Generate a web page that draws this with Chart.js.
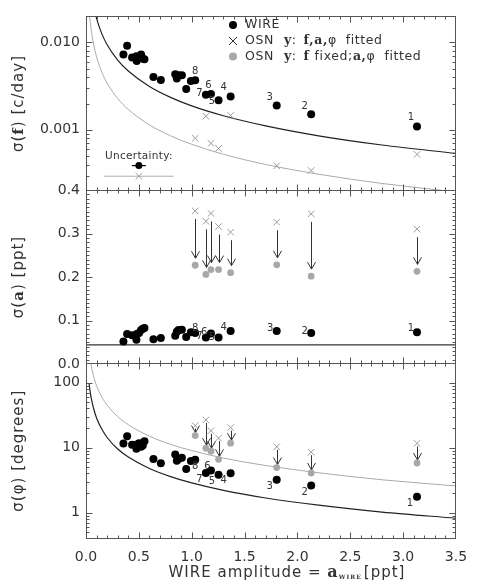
<!DOCTYPE html>
<html><head><meta charset="utf-8">
<script src="https://cdn.jsdelivr.net/npm/chart.js@4.4.1/dist/chart.umd.min.js"></script>
<style>
html,body{margin:0;padding:0;background:#fff;}
#wrap{position:relative;width:480px;height:586px;overflow:hidden;background:#fff;}
canvas{position:absolute;left:0;}
</style></head><body>
<div id="wrap">
<canvas id="c1" width="480" height="200" style="top:0px"></canvas>
<canvas id="c2" width="480" height="190" style="top:182px"></canvas>
<canvas id="c3" width="480" height="231" style="top:355px"></canvas>
</div>
<script>
// ---------------- DATA ----------------
const wireAmp    = [0.354,0.389,0.436,0.477,0.480,0.502,0.521,0.537,0.553,0.638,0.708,0.844,0.859,0.875,0.907,0.948,0.992,1.033,1.134,1.182,1.254,1.368,1.804,2.130,3.131];
const wireSigF   = [0.00725,0.00912,0.00670,0.00693,0.00613,0.00682,0.00725,0.00652,0.00641,0.00402,0.00371,0.00431,0.00385,0.00420,0.00420,0.00292,0.00361,0.00368,0.00252,0.00256,0.00218,0.00241,0.00190,0.00151,0.00109];
const wireSigA   = [0.052,0.069,0.066,0.056,0.069,0.071,0.078,0.081,0.083,0.057,0.060,0.065,0.074,0.078,0.079,0.062,0.073,0.071,0.061,0.070,0.061,0.076,0.076,0.071,0.073];
const wireSigPhi = [11.6,14.9,11.1,9.6,11.2,11.7,10.3,10.8,12.5,6.7,5.75,7.8,6.3,6.7,7.0,4.7,6.2,6.5,4.07,4.43,3.84,4.02,3.21,2.62,1.75];

const starIds      = ['8','7','6','5','4','3','2','1'];
const osnAmp       = [1.033,1.134,1.182,1.254,1.368,1.804,2.130,3.131];
const osnSigF      = [0.00080,0.00143,0.00070,0.000613,0.00146,0.000388,0.000343,0.000524];
const osnSigAFit   = [0.352,0.328,0.346,0.316,0.303,0.326,0.345,0.310];
const osnSigAFix   = [0.227,0.206,0.217,0.217,0.210,0.228,0.202,0.213];
const osnSigPhiFit = [21.8,26.7,18.2,14.0,20.3,10.3,8.5,11.6];
const osnSigPhiFix = [15.3,9.8,8.8,6.6,11.7,4.93,4.07,5.8];

const curveAmp   = [0.03,0.04,0.05,0.07,0.1,0.15,0.2,0.3,0.4,0.6,0.8,1.0,1.3,1.7,2.2,2.8,3.5];
const limFWire   = [0.0627,0.047,0.0376,0.0269,0.0188,0.0125,0.0094,0.00627,0.0047,0.00313,0.00235,0.00188,0.00145,0.00111,0.000855,0.000671,0.000537];
const limFOsn    = [0.0228,0.0171,0.0137,0.0098,0.00684,0.00456,0.00342,0.00228,0.00171,0.00114,0.000855,0.000684,0.000526,0.000402,0.000311,0.000244,0.000195];
const limPhiWire = [95,71.5,57,41,28.6,19.1,14.3,9.5,7.15,4.77,3.58,2.86,2.2,1.68,1.3,1.02,0.82];
const limPhiOsn  = [299,224,180,128,90,60,45,30,22.5,15,11.2,9.0,6.9,5.3,4.1,3.2,2.57];
const limAWire   = 0.044;

const uncAmp = [0.5];
const uncWireF = [0.00039];
const uncOsnF  = [0.000295];
const uncWireErr = 0.066;
const uncOsnErr  = 0.33;

const xRange = [0, 3.5];
const xMajorTicks = [0,0.5,1.0,1.5,2.0,2.5,3.0,3.5];
const xTickLabels = ['0.0','0.5','1.0','1.5','2.0','2.5','3.0','3.5'];
const fRange = [0.0002, 0.02];
const fMajorTicks = [0.001, 0.01];
const fTickLabels = ['0.001','0.010'];
const aRange = [0, 0.4];
const aMajorTicks = [0,0.1,0.2,0.3,0.4];
const aTickLabels = ['0.0','0.1','0.2','0.3','0.4'];
const phiRange = [0.4, 200];
const phiMajorTicks = [1,10,100];
const phiTickLabels = ['1','10','100'];

// ---------------- STYLE ----------------
const SANS = '"DejaVu Sans", "Liberation Sans", sans-serif';
const SERIF = '"DejaVu Serif", "Liberation Serif", serif';
const TXT = '#333';
const FRAME = '#555';
const GRAY_X = '#9a9a9a';
const GRAY_DOT = '#a8a8a8';

function logMinor(lo, hi){
  const out=[]; let e=Math.floor(Math.log10(lo));
  for(; Math.pow(10,e) <= hi*1.0001; e++){ for(let m=1;m<10;m++){ const v=m*Math.pow(10,e); if(v>=lo*0.9999 && v<=hi*1.0001) out.push({v, major:m===1}); } }
  return out;
}
function linTicks(lo,hi,step,majorStep){ const out=[]; const n=Math.round((hi-lo)/step); for(let i=0;i<=n;i++){ const v=lo+i*step; out.push({v, major: Math.abs(v/majorStep-Math.round(v/majorStep))<1e-6}); } return out; }
const xTickMarks = linTicks(0,3.5,0.1,0.5);

function pts(xs, ys){ return xs.map((x,i)=>({x, y: ys[i]})); }

function drawSegs(ctx, segs, x, y){ for(const s of segs){ ctx.font=s.f; ctx.fillText(s.t, x, y+(s.dy||0)); x += ctx.measureText(s.t).width + (s.gap||0);} }
function segsWidth(ctx, segs){ let w=0; for(const s of segs){ ctx.font=s.f; w+=ctx.measureText(s.t).width+(s.gap||0);} return w; }
function spacing(ctx, v){ if('letterSpacing' in ctx) ctx.letterSpacing = v; }

function drawArrow(ctx, x, y0, y1){
  ctx.beginPath(); ctx.moveTo(x,y0); ctx.lineTo(x,y1);
  ctx.moveTo(x-4,y1-7); ctx.lineTo(x,y1); ctx.lineTo(x+4,y1-7); ctx.stroke();
}

const SZ=15;
const decoCfg = {
  c1: {
    yMarks: logMinor(fRange[0],fRange[1]),
    labels:{vals:wireSigF, off:[[0,-8.5],[-6.4,-1.6],[-2.4,-8.7],[-6.6,1],[-7,-8.7],[-7,-8.3],[-6.4,-7.7],[-6,-9]]},
    uncert:true, legend:true,
    ytitle:[{t:'σ(',f:SZ+'px '+SANS},{t:'f',f:'bold '+SZ+'px '+SERIF},{t:') [c/day]',f:SZ+'px '+SANS}]
  },
  c2: {
    yMarks: linTicks(0,0.4,0.01,0.1),
    labels:{vals:wireSigA, off:[[0,-4.5],[-6.4,-1],[-6.7,-1.3],[-6.6,0],[-7,-3.6],[-6.6,-3],[-6.4,-2],[-6,-3.4]]},
    arrows:{from:osnSigAFit, to:osnSigAFix, startOff:8, tipOff:7},
    ytitle:[{t:'σ(',f:SZ+'px '+SANS},{t:'a',f:'bold '+SZ+'px '+SERIF},{t:') [ppt]',f:SZ+'px '+SANS}]
  },
  c3: {
    yMarks: logMinor(phiRange[0],phiRange[1]),
    labels:{vals:wireSigPhi, off:[[0,7],[-6.4,6],[-3.4,-3.7],[-6.6,6.7],[-7,7],[-7,6.7],[-6.4,7],[-7,7]]},
    arrows:{from:osnSigPhiFit, to:osnSigPhiFix, startOff:3, tipOff:3},
    ytitle:[{t:'σ(φ) [degrees]',f:SZ+'px '+SANS}],
    xtitle:[{t:'WIRE amplitude = ',f:'15px '+SANS},{t:'a',f:'bold 16px '+SERIF},{t:'WIRE',f:'bold 6px '+SERIF,dy:2,gap:2},{t:'[ppt]',f:'15px '+SANS}]
  }
};

const deco = {
  id:'deco',
  beforeDatasetsDraw(chart){
    const o = decoCfg[chart.canvas.id]; if(!o) return;
    const {ctx, scales:{x,y}} = chart;
    if(o.arrows){
      ctx.save(); ctx.strokeStyle='#333'; ctx.lineWidth=1;
      const A=o.arrows;
      for(let i=0;i<osnAmp.length;i++){
        const px=Math.round(x.getPixelForValue(osnAmp[i]))+0.5;
        const y0=y.getPixelForValue(A.from[i])+A.startOff;
        const y1=y.getPixelForValue(A.to[i])-A.tipOff;
        drawArrow(ctx,px,y0,y1);
      }
      ctx.restore();
    }
    if(o.uncert){
      ctx.save(); ctx.lineWidth=1.2;
      const yb=y.getPixelForValue(uncWireF[0]), yg=y.getPixelForValue(uncOsnF[0]);
      ctx.strokeStyle='#000'; ctx.beginPath();
      ctx.moveTo(x.getPixelForValue(uncAmp[0]-uncWireErr),yb); ctx.lineTo(x.getPixelForValue(uncAmp[0]+uncWireErr),yb); ctx.stroke();
      ctx.strokeStyle='#b0b0b0'; ctx.lineWidth=1; ctx.beginPath();
      ctx.moveTo(x.getPixelForValue(uncAmp[0]-uncOsnErr),yg); ctx.lineTo(x.getPixelForValue(uncAmp[0]+uncOsnErr),yg); ctx.stroke();
      ctx.fillStyle=TXT; ctx.font='10.5px '+SANS; ctx.textAlign='center'; ctx.textBaseline='middle';
      spacing(ctx,'0.3px');
      ctx.fillText('Uncertainty:', x.getPixelForValue(uncAmp[0]), yb-9);
      ctx.restore();
    }
  },
  afterDatasetsDraw(chart){
    const o = decoCfg[chart.canvas.id]; if(!o) return;
    const {ctx, chartArea:a, scales:{x,y}} = chart;
    if(o.labels){
      ctx.save(); ctx.fillStyle=TXT; ctx.font='10px '+SANS; ctx.textAlign='center'; ctx.textBaseline='middle';
      const n=wireAmp.length;
      for(let i=0;i<starIds.length;i++){
        const k=n-starIds.length+i;
        const px=x.getPixelForValue(wireAmp[k]), py=y.getPixelForValue(o.labels.vals[k]);
        const off=o.labels.off[i];
        ctx.fillText(starIds[i], px+off[0], py+off[1]);
      }
      ctx.restore();
    }
    ctx.save(); ctx.strokeStyle=FRAME; ctx.lineWidth=1;
    const L=Math.round(a.left)+0.5, R=Math.round(a.right)-0.5, T=Math.round(a.top)+0.5, B=Math.round(a.bottom)-0.5;
    ctx.strokeRect(L,T,R-L,B-T);
    ctx.beginPath();
    for(const t of xTickMarks){
      const px=Math.round(x.getPixelForValue(t.v))+0.5; if(px<=L+0.6||px>=R-0.6) continue;
      const len=t.major?6:3;
      ctx.moveTo(px,T); ctx.lineTo(px,T+len); ctx.moveTo(px,B); ctx.lineTo(px,B-len);
    }
    for(const t of o.yMarks){
      const py=Math.round(y.getPixelForValue(t.v))+0.5; if(py<=T+0.6||py>=B-0.6) continue;
      const len=t.major?6:3;
      ctx.moveTo(L,py); ctx.lineTo(L+len,py); ctx.moveTo(R,py); ctx.lineTo(R-len,py);
    }
    ctx.stroke(); ctx.restore();
    if(o.legend){
      ctx.save(); ctx.textBaseline='middle'; ctx.textAlign='left';
      const sx=233, tx=245, rows=[25,41,56.5];
      ctx.fillStyle='#000'; ctx.beginPath(); ctx.arc(sx,rows[0],4,0,Math.PI*2); ctx.fill();
      ctx.strokeStyle='#333'; ctx.lineWidth=1; ctx.beginPath();
      ctx.moveTo(sx-4,rows[1]-4); ctx.lineTo(sx+4,rows[1]+4); ctx.moveTo(sx+4,rows[1]-4); ctx.lineTo(sx-4,rows[1]+4); ctx.stroke();
      ctx.fillStyle=GRAY_DOT; ctx.beginPath(); ctx.arc(sx,rows[2],4,0,Math.PI*2); ctx.fill();
      ctx.fillStyle=TXT;
      spacing(ctx,'0.6px');
      const N='12.5px '+SANS, BS='bold 12.5px '+SERIF;
      drawSegs(ctx,[{t:'WIRE',f:N}],tx,rows[0]);
      drawSegs(ctx,[{t:'OSN',f:N,gap:10},{t:'y',f:BS},{t:':',f:N,gap:7},{t:'f,a,',f:BS},{t:'φ',f:N,gap:9},{t:'fitted',f:N}],tx,rows[1]);
      drawSegs(ctx,[{t:'OSN',f:N,gap:10},{t:'y',f:BS},{t:':',f:N,gap:7},{t:'f',f:BS,gap:5},{t:'fixed;',f:N},{t:'a,',f:BS},{t:'φ',f:N,gap:9},{t:'fitted',f:N}],tx,rows[2]);
      ctx.restore();
    }
    if(o.ytitle){
      ctx.save(); ctx.fillStyle=TXT; ctx.textBaseline='middle'; ctx.textAlign='left';
      spacing(ctx,'1px');
      const w=segsWidth(ctx,o.ytitle);
      ctx.translate(19,(a.top+a.bottom)/2); ctx.rotate(-Math.PI/2);
      drawSegs(ctx,o.ytitle,-w/2,0);
      ctx.restore();
    }
    if(o.xtitle){
      ctx.save(); ctx.fillStyle=TXT; ctx.textBaseline='alphabetic'; ctx.textAlign='left';
      spacing(ctx,'1px');
      const w=segsWidth(ctx,o.xtitle);
      drawSegs(ctx,o.xtitle,287-w/2,chart.height-9);
      ctx.restore();
    }
  }
};

function yAxis(type, range, majors, labels){
  return {
    type, min:range[0], max:range[1], position:'left',
    grid:{display:false, drawTicks:false}, border:{display:false},
    afterBuildTicks:(s)=>{ s.ticks = majors.map(v=>({value:v})); },
    afterFit:(s)=>{ s.width = 86; s.paddingTop = 0; s.paddingBottom = 0; },
    ticks:{ autoSkip:false, padding:6, color:TXT, font:{family:SANS, size:14},
      callback:(v,i)=> labels[i] }
  };
}
function xAxis(show){
  return {
    type:'linear', min:xRange[0], max:xRange[1], display:show,
    grid:{display:false, drawTicks:false}, border:{display:false},
    afterBuildTicks:(s)=>{ s.ticks = xMajorTicks.map(v=>({value:v})); },
    afterFit:(s)=>{ if(show) s.height = 47.5; s.paddingLeft = 0; s.paddingRight = 0; },
    ticks:{ autoSkip:false, maxRotation:0, padding:10, color:TXT, font:{family:SANS, size:14},
      callback:(v,i)=> xTickLabels[i] }
  };
}
const wireStyle = {pointStyle:'circle', pointRadius:4, pointBackgroundColor:'#000', pointBorderColor:'#000', pointBorderWidth:0, showLine:false};
const crossStyle = {pointStyle:'crossRot', pointRadius:4.6, pointBorderColor:GRAY_X, pointBackgroundColor:GRAY_X, pointBorderWidth:1, showLine:false};
const grayDotStyle = {pointStyle:'circle', pointRadius:3.4, pointBackgroundColor:GRAY_DOT, pointBorderColor:GRAY_DOT, pointBorderWidth:0, showLine:false};
const curveStyle = (c,w)=>({showLine:true, pointRadius:0, borderColor:c, borderWidth:w, cubicInterpolationMode:'monotone', fill:false});

const common = (pad)=>({ responsive:false, animation:false, events:[],
  layout:{padding:pad}, plugins:{legend:{display:false}, tooltip:{enabled:false}} });

new Chart(document.getElementById('c1'), {
  type:'scatter',
  data:{datasets:[
    {data:pts(wireAmp,wireSigF), ...wireStyle},
    {data:pts(osnAmp,osnSigF), ...crossStyle},
    {data:pts(uncAmp,uncWireF), ...wireStyle, pointRadius:3.5},
    {data:pts(uncAmp,uncOsnF), ...crossStyle},
    {data:pts(curveAmp,limFWire), ...curveStyle('#222',1.2)},
    {data:pts(curveAmp,limFOsn), ...curveStyle('#aaa',1)}
  ]},
  options:Object.assign(common({top:16,bottom:9,left:0,right:24}),{
    scales:{x:xAxis(false), y:yAxis('logarithmic',fRange,fMajorTicks,fTickLabels)}
  }),
  plugins:[deco]
});

new Chart(document.getElementById('c2'), {
  type:'scatter',
  data:{datasets:[
    {data:pts(wireAmp,wireSigA), ...wireStyle},
    {data:pts(osnAmp,osnSigAFix), ...grayDotStyle},
    {data:pts(osnAmp,osnSigAFit), ...crossStyle},
    {data:pts(xRange,[limAWire,limAWire]), ...curveStyle('#333',1.2)}
  ]},
  options:Object.assign(common({top:8,bottom:8,left:0,right:24}),{
    scales:{x:xAxis(false), y:yAxis('linear',aRange,aMajorTicks,aTickLabels)}
  }),
  plugins:[deco]
});

new Chart(document.getElementById('c3'), {
  type:'scatter',
  data:{datasets:[
    {data:pts(wireAmp,wireSigPhi), ...wireStyle},
    {data:pts(osnAmp,osnSigPhiFix), ...grayDotStyle},
    {data:pts(osnAmp,osnSigPhiFit), ...crossStyle},
    {data:pts(curveAmp,limPhiWire), ...curveStyle('#222',1.2)},
    {data:pts(curveAmp,limPhiOsn), ...curveStyle('#aaa',1)}
  ]},
  options:Object.assign(common({top:8,bottom:0,left:0,right:24}),{
    scales:{x:xAxis(true), y:yAxis('logarithmic',phiRange,phiMajorTicks,phiTickLabels)}
  }),
  plugins:[deco]
});
</script>
</body></html>
